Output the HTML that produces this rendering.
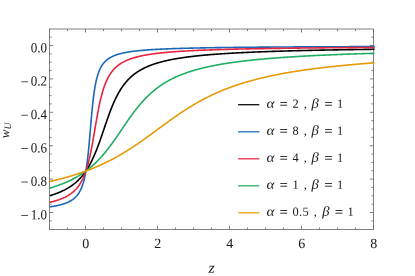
<!DOCTYPE html>
<html><head><meta charset="utf-8"><title>plot</title>
<style>
html,body{margin:0;padding:0;background:#fff;}
body{width:415px;height:276px;overflow:hidden;font-family:"Liberation Serif",serif;}
svg{display:block;will-change:transform;}
text{font-family:"Liberation Serif",serif;fill:#1a1a1a;text-rendering:geometricPrecision;}
.it{font-style:italic;}
</style></head><body>
<svg width="415" height="276" viewBox="0 0 415 276">
<rect x="0" y="0" width="415" height="276" fill="#ffffff"/>
<defs><clipPath id="cp"><rect x="49.90" y="29.00" width="324.70" height="200.50"/></clipPath></defs>

<g stroke="#626262" stroke-width="0.8" fill="none">
<rect x="49.50" y="29.00" width="324.00" height="200.50"/>
<path d="M49.50,229.50 v-2.10 M49.50,29.00 v2.10 M67.50,229.50 v-2.10 M67.50,29.00 v2.10 M85.50,229.50 v-3.60 M85.50,29.00 v3.60 M103.50,229.50 v-2.10 M103.50,29.00 v2.10 M121.50,229.50 v-2.10 M121.50,29.00 v2.10 M139.50,229.50 v-2.10 M139.50,29.00 v2.10 M157.50,229.50 v-3.60 M157.50,29.00 v3.60 M175.50,229.50 v-2.10 M175.50,29.00 v2.10 M193.50,229.50 v-2.10 M193.50,29.00 v2.10 M211.50,229.50 v-2.10 M211.50,29.00 v2.10 M229.50,229.50 v-3.60 M229.50,29.00 v3.60 M247.50,229.50 v-2.10 M247.50,29.00 v2.10 M265.50,229.50 v-2.10 M265.50,29.00 v2.10 M283.50,229.50 v-2.10 M283.50,29.00 v2.10 M301.50,229.50 v-3.60 M301.50,29.00 v3.60 M319.50,229.50 v-2.10 M319.50,29.00 v2.10 M337.50,229.50 v-2.10 M337.50,29.00 v2.10 M355.50,229.50 v-2.10 M355.50,29.00 v2.10 M373.50,229.50 v-3.60 M373.50,29.00 v3.60 M49.50,220.85 h2.10 M373.50,220.85 h-2.10 M49.50,212.50 h3.60 M373.50,212.50 h-3.60 M49.50,204.15 h2.10 M373.50,204.15 h-2.10 M49.50,195.80 h2.10 M373.50,195.80 h-2.10 M49.50,187.45 h2.10 M373.50,187.45 h-2.10 M49.50,179.10 h3.60 M373.50,179.10 h-3.60 M49.50,170.75 h2.10 M373.50,170.75 h-2.10 M49.50,162.40 h2.10 M373.50,162.40 h-2.10 M49.50,154.05 h2.10 M373.50,154.05 h-2.10 M49.50,145.70 h3.60 M373.50,145.70 h-3.60 M49.50,137.35 h2.10 M373.50,137.35 h-2.10 M49.50,129.00 h2.10 M373.50,129.00 h-2.10 M49.50,120.65 h2.10 M373.50,120.65 h-2.10 M49.50,112.30 h3.60 M373.50,112.30 h-3.60 M49.50,103.95 h2.10 M373.50,103.95 h-2.10 M49.50,95.60 h2.10 M373.50,95.60 h-2.10 M49.50,87.25 h2.10 M373.50,87.25 h-2.10 M49.50,78.90 h3.60 M373.50,78.90 h-3.60 M49.50,70.55 h2.10 M373.50,70.55 h-2.10 M49.50,62.20 h2.10 M373.50,62.20 h-2.10 M49.50,53.85 h2.10 M373.50,53.85 h-2.10 M49.50,45.50 h3.60 M373.50,45.50 h-3.60 M49.50,37.15 h2.10 M373.50,37.15 h-2.10"/>
</g>
<g clip-path="url(#cp)" fill="none" stroke-width="1.60" stroke-linejoin="round">
<path d="M47.74,196.26 L48.21,196.13 L48.68,196.00 L49.15,195.87 L49.62,195.73 L50.09,195.59 L50.55,195.45 L51.02,195.31 L51.49,195.16 L51.96,195.02 L52.43,194.87 L52.90,194.71 L53.37,194.56 L53.84,194.40 L54.31,194.24 L54.78,194.08 L55.24,193.91 L55.71,193.75 L56.18,193.58 L56.65,193.40 L57.12,193.22 L57.59,193.04 L58.06,192.86 L58.53,192.67 L59.00,192.48 L59.47,192.29 L59.93,192.09 L60.40,191.89 L60.87,191.69 L61.34,191.48 L61.81,191.27 L62.28,191.05 L62.75,190.83 L63.22,190.61 L63.69,190.38 L64.16,190.14 L64.63,189.91 L65.09,189.66 L65.56,189.42 L66.03,189.16 L66.50,188.90 L66.97,188.64 L67.44,188.37 L67.91,188.10 L68.38,187.82 L68.85,187.53 L69.32,187.24 L69.78,186.94 L70.25,186.64 L70.72,186.33 L71.19,186.01 L71.66,185.68 L72.13,185.35 L72.60,185.01 L73.07,184.66 L73.54,184.30 L74.01,183.94 L74.47,183.57 L74.94,183.19 L75.41,182.79 L75.88,182.39 L76.35,181.99 L76.82,181.57 L77.29,181.14 L77.76,180.70 L78.23,180.25 L78.70,179.78 L79.16,179.31 L79.63,178.82 L80.10,178.33 L80.57,177.82 L81.04,177.29 L81.51,176.76 L81.98,176.20 L82.45,175.64 L82.92,175.06 L83.39,174.46 L83.86,173.85 L84.32,173.23 L84.79,172.59 L85.26,171.93 L85.73,171.25 L86.20,170.55 L86.67,169.84 L87.14,169.11 L87.61,168.36 L88.08,167.58 L88.55,166.79 L89.01,165.98 L89.48,165.15 L89.95,164.29 L90.42,163.42 L90.89,162.52 L91.36,161.60 L91.83,160.65 L92.30,159.69 L92.77,158.70 L93.24,157.68 L93.70,156.64 L94.17,155.58 L94.64,154.50 L95.11,153.39 L95.58,152.26 L96.05,151.11 L96.52,149.94 L96.99,148.74 L97.46,147.52 L97.93,146.28 L98.40,145.03 L98.86,143.75 L99.33,142.46 L99.80,141.15 L100.27,139.82 L100.74,138.49 L101.21,137.14 L101.68,135.78 L102.15,134.41 L102.62,133.03 L103.09,131.65 L103.55,130.27 L104.02,128.89 L104.49,127.50 L104.96,126.12 L105.43,124.74 L105.90,123.37 L106.37,122.00 L106.84,120.65 L107.31,119.31 L107.78,117.98 L108.24,116.66 L108.71,115.36 L109.18,114.08 L109.65,112.81 L110.12,111.56 L110.59,110.33 L111.06,109.13 L111.53,107.94 L112.00,106.78 L112.47,105.64 L112.93,104.52 L113.40,103.43 L113.87,102.35 L114.34,101.31 L114.81,100.28 L115.28,99.28 L115.75,98.30 L116.22,97.35 L116.69,96.42 L117.16,95.51 L117.63,94.62 L118.09,93.75 L118.56,92.91 L119.03,92.09 L119.50,91.29 L119.97,90.51 L120.44,89.75 L120.91,89.01 L121.38,88.28 L121.85,87.58 L122.32,86.89 L122.78,86.23 L123.25,85.57 L123.72,84.94 L124.19,84.32 L124.66,83.72 L125.13,83.13 L125.60,82.56 L126.07,82.00 L126.54,81.46 L127.01,80.93 L127.47,80.41 L127.94,79.91 L128.41,79.42 L128.88,78.94 L129.35,78.47 L129.82,78.02 L130.29,77.57 L130.76,77.14 L131.23,76.71 L131.70,76.30 L132.17,75.89 L132.63,75.50 L133.10,75.11 L133.57,74.74 L134.04,74.37 L134.51,74.01 L134.98,73.66 L135.45,73.31 L135.92,72.98 L136.39,72.65 L136.86,72.32 L137.32,72.01 L137.79,71.70 L138.26,71.40 L138.73,71.10 L139.20,70.82 L139.67,70.53 L140.14,70.26 L140.61,69.98 L141.08,69.72 L141.55,69.46 L142.01,69.20 L142.48,68.95 L142.95,68.71 L143.42,68.47 L143.89,68.23 L144.36,68.00 L144.83,67.77 L145.30,67.55 L145.77,67.33 L146.24,67.12 L146.71,66.91 L147.17,66.70 L147.64,66.50 L148.11,66.30 L148.58,66.11 L149.05,65.92 L149.52,65.73 L149.99,65.54 L150.46,65.36 L150.93,65.18 L151.40,65.01 L151.86,64.83 L152.33,64.66 L152.80,64.50 L153.27,64.33 L153.74,64.17 L154.21,64.01 L154.68,63.86 L155.15,63.71 L155.62,63.55 L156.09,63.41 L156.55,63.26 L157.02,63.12 L157.49,62.97 L157.96,62.84 L158.43,62.70 L158.90,62.56 L159.37,62.43 L159.84,62.30 L160.31,62.17 L160.78,62.04 L161.24,61.92 L161.71,61.79 L162.18,61.67 L162.65,61.55 L163.12,61.44 L163.59,61.32 L164.06,61.20 L164.53,61.09 L165.00,60.98 L165.47,60.87 L165.94,60.76 L166.40,60.66 L166.87,60.55 L167.34,60.45 L167.81,60.34 L168.28,60.24 L168.75,60.14 L169.22,60.04 L169.69,59.95 L170.16,59.85 L170.63,59.76 L171.09,59.66 L171.56,59.57 L172.03,59.48 L172.50,59.39 L172.97,59.30 L173.44,59.21 L173.91,59.13 L174.38,59.04 L174.85,58.96 L175.32,58.87 L175.78,58.79 L176.25,58.71 L176.72,58.63 L177.19,58.55 L177.66,58.47 L178.13,58.40 L178.60,58.32 L179.07,58.24 L179.54,58.17 L180.01,58.10 L180.48,58.02 L180.94,57.95 L181.41,57.88 L181.88,57.81 L182.35,57.74 L182.82,57.67 L183.29,57.60 L183.76,57.53 L184.23,57.47 L184.70,57.40 L185.17,57.34 L185.63,57.27 L186.10,57.21 L186.57,57.15 L187.04,57.08 L187.51,57.02 L187.98,56.96 L188.45,56.90 L188.92,56.84 L189.39,56.78 L189.86,56.72 L190.32,56.67 L190.79,56.61 L191.26,56.55 L191.73,56.50 L192.20,56.44 L192.67,56.38 L193.14,56.33 L193.61,56.28 L194.08,56.22 L194.55,56.17 L195.01,56.12 L195.48,56.07 L195.95,56.01 L196.42,55.96 L196.89,55.91 L197.36,55.86 L197.83,55.81 L198.30,55.77 L198.77,55.72 L199.24,55.67 L199.71,55.62 L200.17,55.58 L200.64,55.53 L201.11,55.48 L201.58,55.44 L202.05,55.39 L202.52,55.35 L202.99,55.30 L203.46,55.26 L203.93,55.21 L204.40,55.17 L204.86,55.13 L205.33,55.09 L205.80,55.04 L206.27,55.00 L206.74,54.96 L207.21,54.92 L207.68,54.88 L208.15,54.84 L208.62,54.80 L209.09,54.76 L209.55,54.72 L210.02,54.68 L210.49,54.64 L210.96,54.60 L211.43,54.57 L211.90,54.53 L212.37,54.49 L212.84,54.45 L213.31,54.42 L213.78,54.38 L214.25,54.35 L214.71,54.31 L215.18,54.27 L215.65,54.24 L216.12,54.20 L216.59,54.17 L217.06,54.14 L217.53,54.10 L218.00,54.07 L218.47,54.03 L218.94,54.00 L219.40,53.97 L219.87,53.94 L220.34,53.90 L220.81,53.87 L221.28,53.84 L221.75,53.81 L222.22,53.78 L222.69,53.74 L223.16,53.71 L223.63,53.68 L224.09,53.65 L224.56,53.62 L225.03,53.59 L225.50,53.56 L225.97,53.53 L226.44,53.50 L226.91,53.47 L227.38,53.44 L227.85,53.42 L228.32,53.39 L228.79,53.36 L229.25,53.33 L229.72,53.30 L230.19,53.28 L230.66,53.25 L231.13,53.22 L231.60,53.19 L232.07,53.17 L232.54,53.14 L233.01,53.11 L233.48,53.09 L233.94,53.06 L234.41,53.04 L234.88,53.01 L235.35,52.98 L235.82,52.96 L236.29,52.93 L236.76,52.91 L237.23,52.88 L237.70,52.86 L238.17,52.83 L238.63,52.81 L239.10,52.79 L239.57,52.76 L240.04,52.74 L240.51,52.71 L240.98,52.69 L241.45,52.67 L241.92,52.64 L242.39,52.62 L242.86,52.60 L243.32,52.58 L243.79,52.55 L244.26,52.53 L244.73,52.51 L245.20,52.49 L245.67,52.46 L246.14,52.44 L246.61,52.42 L247.08,52.40 L247.55,52.38 L248.02,52.36 L248.48,52.33 L248.95,52.31 L249.42,52.29 L249.89,52.27 L250.36,52.25 L250.83,52.23 L251.30,52.21 L251.77,52.19 L252.24,52.17 L252.71,52.15 L253.17,52.13 L253.64,52.11 L254.11,52.09 L254.58,52.07 L255.05,52.05 L255.52,52.03 L255.99,52.01 L256.46,51.99 L256.93,51.97 L257.40,51.96 L257.86,51.94 L258.33,51.92 L258.80,51.90 L259.27,51.88 L259.74,51.86 L260.21,51.84 L260.68,51.83 L261.15,51.81 L261.62,51.79 L262.09,51.77 L262.56,51.76 L263.02,51.74 L263.49,51.72 L263.96,51.70 L264.43,51.69 L264.90,51.67 L265.37,51.65 L265.84,51.63 L266.31,51.62 L266.78,51.60 L267.25,51.58 L267.71,51.57 L268.18,51.55 L268.65,51.53 L269.12,51.52 L269.59,51.50 L270.06,51.49 L270.53,51.47 L271.00,51.45 L271.47,51.44 L271.94,51.42 L272.40,51.41 L272.87,51.39 L273.34,51.38 L273.81,51.36 L274.28,51.35 L274.75,51.33 L275.22,51.31 L275.69,51.30 L276.16,51.28 L276.63,51.27 L277.09,51.25 L277.56,51.24 L278.03,51.23 L278.50,51.21 L278.97,51.20 L279.44,51.18 L279.91,51.17 L280.38,51.15 L280.85,51.14 L281.32,51.12 L281.79,51.11 L282.25,51.10 L282.72,51.08 L283.19,51.07 L283.66,51.06 L284.13,51.04 L284.60,51.03 L285.07,51.01 L285.54,51.00 L286.01,50.99 L286.48,50.97 L286.94,50.96 L287.41,50.95 L287.88,50.93 L288.35,50.92 L288.82,50.91 L289.29,50.90 L289.76,50.88 L290.23,50.87 L290.70,50.86 L291.17,50.84 L291.63,50.83 L292.10,50.82 L292.57,50.81 L293.04,50.79 L293.51,50.78 L293.98,50.77 L294.45,50.76 L294.92,50.74 L295.39,50.73 L295.86,50.72 L296.33,50.71 L296.79,50.70 L297.26,50.68 L297.73,50.67 L298.20,50.66 L298.67,50.65 L299.14,50.64 L299.61,50.63 L300.08,50.61 L300.55,50.60 L301.02,50.59 L301.48,50.58 L301.95,50.57 L302.42,50.56 L302.89,50.55 L303.36,50.53 L303.83,50.52 L304.30,50.51 L304.77,50.50 L305.24,50.49 L305.71,50.48 L306.17,50.47 L306.64,50.46 L307.11,50.45 L307.58,50.44 L308.05,50.42 L308.52,50.41 L308.99,50.40 L309.46,50.39 L309.93,50.38 L310.40,50.37 L310.87,50.36 L311.33,50.35 L311.80,50.34 L312.27,50.33 L312.74,50.32 L313.21,50.31 L313.68,50.30 L314.15,50.29 L314.62,50.28 L315.09,50.27 L315.56,50.26 L316.02,50.25 L316.49,50.24 L316.96,50.23 L317.43,50.22 L317.90,50.21 L318.37,50.20 L318.84,50.19 L319.31,50.18 L319.78,50.17 L320.25,50.16 L320.71,50.15 L321.18,50.14 L321.65,50.13 L322.12,50.12 L322.59,50.12 L323.06,50.11 L323.53,50.10 L324.00,50.09 L324.47,50.08 L324.94,50.07 L325.40,50.06 L325.87,50.05 L326.34,50.04 L326.81,50.03 L327.28,50.02 L327.75,50.02 L328.22,50.01 L328.69,50.00 L329.16,49.99 L329.63,49.98 L330.10,49.97 L330.56,49.96 L331.03,49.95 L331.50,49.95 L331.97,49.94 L332.44,49.93 L332.91,49.92 L333.38,49.91 L333.85,49.90 L334.32,49.89 L334.79,49.89 L335.25,49.88 L335.72,49.87 L336.19,49.86 L336.66,49.85 L337.13,49.84 L337.60,49.84 L338.07,49.83 L338.54,49.82 L339.01,49.81 L339.48,49.80 L339.94,49.80 L340.41,49.79 L340.88,49.78 L341.35,49.77 L341.82,49.76 L342.29,49.76 L342.76,49.75 L343.23,49.74 L343.70,49.73 L344.17,49.72 L344.64,49.72 L345.10,49.71 L345.57,49.70 L346.04,49.69 L346.51,49.69 L346.98,49.68 L347.45,49.67 L347.92,49.66 L348.39,49.66 L348.86,49.65 L349.33,49.64 L349.79,49.63 L350.26,49.63 L350.73,49.62 L351.20,49.61 L351.67,49.61 L352.14,49.60 L352.61,49.59 L353.08,49.58 L353.55,49.58 L354.02,49.57 L354.48,49.56 L354.95,49.55 L355.42,49.55 L355.89,49.54 L356.36,49.53 L356.83,49.53 L357.30,49.52 L357.77,49.51 L358.24,49.51 L358.71,49.50 L359.17,49.49 L359.64,49.49 L360.11,49.48 L360.58,49.47 L361.05,49.46 L361.52,49.46 L361.99,49.45 L362.46,49.44 L362.93,49.44 L363.40,49.43 L363.87,49.42 L364.33,49.42 L364.80,49.41 L365.27,49.41 L365.74,49.40 L366.21,49.39 L366.68,49.39 L367.15,49.38 L367.62,49.37 L368.09,49.37 L368.56,49.36 L369.02,49.35 L369.49,49.35 L369.96,49.34 L370.43,49.33 L370.90,49.33 L371.37,49.32 L371.84,49.32 L372.31,49.31 L372.78,49.30 L373.25,49.30 L373.71,49.29 L374.18,49.28 L374.65,49.28 L375.12,49.27 L375.59,49.27 L376.06,49.26" stroke="#000000"/>
<path d="M47.74,207.16 L48.21,207.10 L48.68,207.04 L49.15,206.97 L49.62,206.91 L50.09,206.84 L50.55,206.77 L51.02,206.70 L51.49,206.63 L51.96,206.56 L52.43,206.48 L52.90,206.40 L53.37,206.32 L53.84,206.24 L54.31,206.16 L54.78,206.07 L55.24,205.98 L55.71,205.89 L56.18,205.80 L56.65,205.70 L57.12,205.61 L57.59,205.50 L58.06,205.40 L58.53,205.29 L59.00,205.18 L59.47,205.07 L59.93,204.95 L60.40,204.83 L60.87,204.71 L61.34,204.58 L61.81,204.45 L62.28,204.31 L62.75,204.17 L63.22,204.03 L63.69,203.88 L64.16,203.72 L64.63,203.56 L65.09,203.40 L65.56,203.22 L66.03,203.04 L66.50,202.86 L66.97,202.66 L67.44,202.46 L67.91,202.25 L68.38,202.04 L68.85,201.81 L69.32,201.57 L69.78,201.33 L70.25,201.07 L70.72,200.80 L71.19,200.52 L71.66,200.22 L72.13,199.91 L72.60,199.59 L73.07,199.25 L73.54,198.89 L74.01,198.51 L74.47,198.11 L74.94,197.69 L75.41,197.24 L75.88,196.77 L76.35,196.27 L76.82,195.74 L77.29,195.17 L77.76,194.57 L78.23,193.93 L78.70,193.24 L79.16,192.50 L79.63,191.70 L80.10,190.85 L80.57,189.92 L81.04,188.93 L81.51,187.84 L81.98,186.66 L82.45,185.38 L82.92,183.97 L83.39,182.43 L83.86,180.73 L84.32,178.86 L84.79,176.80 L85.26,174.51 L85.73,171.98 L86.20,169.17 L86.67,166.05 L87.14,162.59 L87.61,158.77 L88.08,154.59 L88.55,150.03 L89.01,145.13 L89.48,139.93 L89.95,134.52 L90.42,128.99 L90.89,123.48 L91.36,118.08 L91.83,112.91 L92.30,108.04 L92.77,103.51 L93.24,99.36 L93.70,95.58 L94.17,92.15 L94.64,89.06 L95.11,86.28 L95.58,83.77 L96.05,81.50 L96.52,79.46 L96.99,77.61 L97.46,75.93 L97.93,74.40 L98.40,73.00 L98.86,71.73 L99.33,70.56 L99.80,69.48 L100.27,68.49 L100.74,67.57 L101.21,66.72 L101.68,65.93 L102.15,65.20 L102.62,64.51 L103.09,63.87 L103.55,63.27 L104.02,62.71 L104.49,62.18 L104.96,61.68 L105.43,61.21 L105.90,60.77 L106.37,60.35 L106.84,59.95 L107.31,59.58 L107.78,59.22 L108.24,58.88 L108.71,58.56 L109.18,58.25 L109.65,57.96 L110.12,57.68 L110.59,57.41 L111.06,57.15 L111.53,56.91 L112.00,56.67 L112.47,56.44 L112.93,56.23 L113.40,56.02 L113.87,55.82 L114.34,55.63 L114.81,55.44 L115.28,55.26 L115.75,55.09 L116.22,54.92 L116.69,54.76 L117.16,54.61 L117.63,54.46 L118.09,54.31 L118.56,54.17 L119.03,54.04 L119.50,53.91 L119.97,53.78 L120.44,53.65 L120.91,53.53 L121.38,53.42 L121.85,53.31 L122.32,53.20 L122.78,53.09 L123.25,52.99 L123.72,52.89 L124.19,52.79 L124.66,52.69 L125.13,52.60 L125.60,52.51 L126.07,52.42 L126.54,52.34 L127.01,52.25 L127.47,52.17 L127.94,52.09 L128.41,52.01 L128.88,51.94 L129.35,51.86 L129.82,51.79 L130.29,51.72 L130.76,51.65 L131.23,51.59 L131.70,51.52 L132.17,51.46 L132.63,51.39 L133.10,51.33 L133.57,51.27 L134.04,51.21 L134.51,51.15 L134.98,51.10 L135.45,51.04 L135.92,50.99 L136.39,50.94 L136.86,50.88 L137.32,50.83 L137.79,50.78 L138.26,50.73 L138.73,50.69 L139.20,50.64 L139.67,50.59 L140.14,50.55 L140.61,50.50 L141.08,50.46 L141.55,50.42 L142.01,50.37 L142.48,50.33 L142.95,50.29 L143.42,50.25 L143.89,50.21 L144.36,50.17 L144.83,50.13 L145.30,50.10 L145.77,50.06 L146.24,50.02 L146.71,49.99 L147.17,49.95 L147.64,49.92 L148.11,49.89 L148.58,49.85 L149.05,49.82 L149.52,49.79 L149.99,49.76 L150.46,49.73 L150.93,49.69 L151.40,49.66 L151.86,49.63 L152.33,49.61 L152.80,49.58 L153.27,49.55 L153.74,49.52 L154.21,49.49 L154.68,49.47 L155.15,49.44 L155.62,49.41 L156.09,49.39 L156.55,49.36 L157.02,49.34 L157.49,49.31 L157.96,49.29 L158.43,49.26 L158.90,49.24 L159.37,49.21 L159.84,49.19 L160.31,49.17 L160.78,49.14 L161.24,49.12 L161.71,49.10 L162.18,49.08 L162.65,49.06 L163.12,49.04 L163.59,49.01 L164.06,48.99 L164.53,48.97 L165.00,48.95 L165.47,48.93 L165.94,48.91 L166.40,48.89 L166.87,48.87 L167.34,48.86 L167.81,48.84 L168.28,48.82 L168.75,48.80 L169.22,48.78 L169.69,48.76 L170.16,48.75 L170.63,48.73 L171.09,48.71 L171.56,48.69 L172.03,48.68 L172.50,48.66 L172.97,48.64 L173.44,48.63 L173.91,48.61 L174.38,48.60 L174.85,48.58 L175.32,48.56 L175.78,48.55 L176.25,48.53 L176.72,48.52 L177.19,48.50 L177.66,48.49 L178.13,48.47 L178.60,48.46 L179.07,48.45 L179.54,48.43 L180.01,48.42 L180.48,48.40 L180.94,48.39 L181.41,48.38 L181.88,48.36 L182.35,48.35 L182.82,48.34 L183.29,48.32 L183.76,48.31 L184.23,48.30 L184.70,48.28 L185.17,48.27 L185.63,48.26 L186.10,48.25 L186.57,48.24 L187.04,48.22 L187.51,48.21 L187.98,48.20 L188.45,48.19 L188.92,48.18 L189.39,48.16 L189.86,48.15 L190.32,48.14 L190.79,48.13 L191.26,48.12 L191.73,48.11 L192.20,48.10 L192.67,48.09 L193.14,48.08 L193.61,48.07 L194.08,48.06 L194.55,48.05 L195.01,48.04 L195.48,48.02 L195.95,48.01 L196.42,48.00 L196.89,47.99 L197.36,47.99 L197.83,47.98 L198.30,47.97 L198.77,47.96 L199.24,47.95 L199.71,47.94 L200.17,47.93 L200.64,47.92 L201.11,47.91 L201.58,47.90 L202.05,47.89 L202.52,47.88 L202.99,47.87 L203.46,47.86 L203.93,47.86 L204.40,47.85 L204.86,47.84 L205.33,47.83 L205.80,47.82 L206.27,47.81 L206.74,47.81 L207.21,47.80 L207.68,47.79 L208.15,47.78 L208.62,47.77 L209.09,47.76 L209.55,47.76 L210.02,47.75 L210.49,47.74 L210.96,47.73 L211.43,47.73 L211.90,47.72 L212.37,47.71 L212.84,47.70 L213.31,47.70 L213.78,47.69 L214.25,47.68 L214.71,47.67 L215.18,47.67 L215.65,47.66 L216.12,47.65 L216.59,47.64 L217.06,47.64 L217.53,47.63 L218.00,47.62 L218.47,47.62 L218.94,47.61 L219.40,47.60 L219.87,47.60 L220.34,47.59 L220.81,47.58 L221.28,47.58 L221.75,47.57 L222.22,47.56 L222.69,47.56 L223.16,47.55 L223.63,47.54 L224.09,47.54 L224.56,47.53 L225.03,47.53 L225.50,47.52 L225.97,47.51 L226.44,47.51 L226.91,47.50 L227.38,47.50 L227.85,47.49 L228.32,47.48 L228.79,47.48 L229.25,47.47 L229.72,47.47 L230.19,47.46 L230.66,47.45 L231.13,47.45 L231.60,47.44 L232.07,47.44 L232.54,47.43 L233.01,47.43 L233.48,47.42 L233.94,47.42 L234.41,47.41 L234.88,47.41 L235.35,47.40 L235.82,47.39 L236.29,47.39 L236.76,47.38 L237.23,47.38 L237.70,47.37 L238.17,47.37 L238.63,47.36 L239.10,47.36 L239.57,47.35 L240.04,47.35 L240.51,47.34 L240.98,47.34 L241.45,47.33 L241.92,47.33 L242.39,47.32 L242.86,47.32 L243.32,47.31 L243.79,47.31 L244.26,47.30 L244.73,47.30 L245.20,47.29 L245.67,47.29 L246.14,47.29 L246.61,47.28 L247.08,47.28 L247.55,47.27 L248.02,47.27 L248.48,47.26 L248.95,47.26 L249.42,47.25 L249.89,47.25 L250.36,47.25 L250.83,47.24 L251.30,47.24 L251.77,47.23 L252.24,47.23 L252.71,47.22 L253.17,47.22 L253.64,47.21 L254.11,47.21 L254.58,47.21 L255.05,47.20 L255.52,47.20 L255.99,47.19 L256.46,47.19 L256.93,47.19 L257.40,47.18 L257.86,47.18 L258.33,47.17 L258.80,47.17 L259.27,47.17 L259.74,47.16 L260.21,47.16 L260.68,47.15 L261.15,47.15 L261.62,47.15 L262.09,47.14 L262.56,47.14 L263.02,47.14 L263.49,47.13 L263.96,47.13 L264.43,47.12 L264.90,47.12 L265.37,47.12 L265.84,47.11 L266.31,47.11 L266.78,47.11 L267.25,47.10 L267.71,47.10 L268.18,47.10 L268.65,47.09 L269.12,47.09 L269.59,47.08 L270.06,47.08 L270.53,47.08 L271.00,47.07 L271.47,47.07 L271.94,47.07 L272.40,47.06 L272.87,47.06 L273.34,47.06 L273.81,47.05 L274.28,47.05 L274.75,47.05 L275.22,47.04 L275.69,47.04 L276.16,47.04 L276.63,47.03 L277.09,47.03 L277.56,47.03 L278.03,47.02 L278.50,47.02 L278.97,47.02 L279.44,47.02 L279.91,47.01 L280.38,47.01 L280.85,47.01 L281.32,47.00 L281.79,47.00 L282.25,47.00 L282.72,46.99 L283.19,46.99 L283.66,46.99 L284.13,46.98 L284.60,46.98 L285.07,46.98 L285.54,46.98 L286.01,46.97 L286.48,46.97 L286.94,46.97 L287.41,46.96 L287.88,46.96 L288.35,46.96 L288.82,46.96 L289.29,46.95 L289.76,46.95 L290.23,46.95 L290.70,46.94 L291.17,46.94 L291.63,46.94 L292.10,46.94 L292.57,46.93 L293.04,46.93 L293.51,46.93 L293.98,46.92 L294.45,46.92 L294.92,46.92 L295.39,46.92 L295.86,46.91 L296.33,46.91 L296.79,46.91 L297.26,46.91 L297.73,46.90 L298.20,46.90 L298.67,46.90 L299.14,46.90 L299.61,46.89 L300.08,46.89 L300.55,46.89 L301.02,46.89 L301.48,46.88 L301.95,46.88 L302.42,46.88 L302.89,46.88 L303.36,46.87 L303.83,46.87 L304.30,46.87 L304.77,46.87 L305.24,46.86 L305.71,46.86 L306.17,46.86 L306.64,46.86 L307.11,46.85 L307.58,46.85 L308.05,46.85 L308.52,46.85 L308.99,46.84 L309.46,46.84 L309.93,46.84 L310.40,46.84 L310.87,46.83 L311.33,46.83 L311.80,46.83 L312.27,46.83 L312.74,46.83 L313.21,46.82 L313.68,46.82 L314.15,46.82 L314.62,46.82 L315.09,46.81 L315.56,46.81 L316.02,46.81 L316.49,46.81 L316.96,46.81 L317.43,46.80 L317.90,46.80 L318.37,46.80 L318.84,46.80 L319.31,46.79 L319.78,46.79 L320.25,46.79 L320.71,46.79 L321.18,46.79 L321.65,46.78 L322.12,46.78 L322.59,46.78 L323.06,46.78 L323.53,46.78 L324.00,46.77 L324.47,46.77 L324.94,46.77 L325.40,46.77 L325.87,46.77 L326.34,46.76 L326.81,46.76 L327.28,46.76 L327.75,46.76 L328.22,46.76 L328.69,46.75 L329.16,46.75 L329.63,46.75 L330.10,46.75 L330.56,46.75 L331.03,46.74 L331.50,46.74 L331.97,46.74 L332.44,46.74 L332.91,46.74 L333.38,46.73 L333.85,46.73 L334.32,46.73 L334.79,46.73 L335.25,46.73 L335.72,46.72 L336.19,46.72 L336.66,46.72 L337.13,46.72 L337.60,46.72 L338.07,46.72 L338.54,46.71 L339.01,46.71 L339.48,46.71 L339.94,46.71 L340.41,46.71 L340.88,46.70 L341.35,46.70 L341.82,46.70 L342.29,46.70 L342.76,46.70 L343.23,46.70 L343.70,46.69 L344.17,46.69 L344.64,46.69 L345.10,46.69 L345.57,46.69 L346.04,46.69 L346.51,46.68 L346.98,46.68 L347.45,46.68 L347.92,46.68 L348.39,46.68 L348.86,46.68 L349.33,46.67 L349.79,46.67 L350.26,46.67 L350.73,46.67 L351.20,46.67 L351.67,46.67 L352.14,46.66 L352.61,46.66 L353.08,46.66 L353.55,46.66 L354.02,46.66 L354.48,46.66 L354.95,46.65 L355.42,46.65 L355.89,46.65 L356.36,46.65 L356.83,46.65 L357.30,46.65 L357.77,46.64 L358.24,46.64 L358.71,46.64 L359.17,46.64 L359.64,46.64 L360.11,46.64 L360.58,46.64 L361.05,46.63 L361.52,46.63 L361.99,46.63 L362.46,46.63 L362.93,46.63 L363.40,46.63 L363.87,46.62 L364.33,46.62 L364.80,46.62 L365.27,46.62 L365.74,46.62 L366.21,46.62 L366.68,46.62 L367.15,46.61 L367.62,46.61 L368.09,46.61 L368.56,46.61 L369.02,46.61 L369.49,46.61 L369.96,46.61 L370.43,46.60 L370.90,46.60 L371.37,46.60 L371.84,46.60 L372.31,46.60 L372.78,46.60 L373.25,46.60 L373.71,46.59 L374.18,46.59 L374.65,46.59 L375.12,46.59 L375.59,46.59 L376.06,46.59" stroke="#1c66b8"/>
<path d="M47.74,202.73 L48.21,202.63 L48.68,202.53 L49.15,202.43 L49.62,202.32 L50.09,202.21 L50.55,202.11 L51.02,202.00 L51.49,201.88 L51.96,201.77 L52.43,201.65 L52.90,201.53 L53.37,201.41 L53.84,201.28 L54.31,201.15 L54.78,201.02 L55.24,200.89 L55.71,200.75 L56.18,200.61 L56.65,200.47 L57.12,200.32 L57.59,200.17 L58.06,200.01 L58.53,199.86 L59.00,199.69 L59.47,199.53 L59.93,199.36 L60.40,199.18 L60.87,199.00 L61.34,198.82 L61.81,198.63 L62.28,198.44 L62.75,198.24 L63.22,198.04 L63.69,197.83 L64.16,197.61 L64.63,197.39 L65.09,197.16 L65.56,196.93 L66.03,196.68 L66.50,196.44 L66.97,196.18 L67.44,195.91 L67.91,195.64 L68.38,195.36 L68.85,195.07 L69.32,194.77 L69.78,194.46 L70.25,194.14 L70.72,193.81 L71.19,193.46 L71.66,193.11 L72.13,192.74 L72.60,192.36 L73.07,191.97 L73.54,191.56 L74.01,191.13 L74.47,190.69 L74.94,190.23 L75.41,189.75 L75.88,189.25 L76.35,188.74 L76.82,188.20 L77.29,187.64 L77.76,187.05 L78.23,186.44 L78.70,185.80 L79.16,185.13 L79.63,184.43 L80.10,183.70 L80.57,182.94 L81.04,182.13 L81.51,181.29 L81.98,180.41 L82.45,179.48 L82.92,178.51 L83.39,177.48 L83.86,176.40 L84.32,175.27 L84.79,174.08 L85.26,172.82 L85.73,171.49 L86.20,170.10 L86.67,168.63 L87.14,167.08 L87.61,165.45 L88.08,163.73 L88.55,161.93 L89.01,160.04 L89.48,158.05 L89.95,155.97 L90.42,153.79 L90.89,151.53 L91.36,149.17 L91.83,146.73 L92.30,144.21 L92.77,141.62 L93.24,138.97 L93.70,136.27 L94.17,133.53 L94.64,130.77 L95.11,128.00 L95.58,125.24 L96.05,122.49 L96.52,119.79 L96.99,117.13 L97.46,114.53 L97.93,112.01 L98.40,109.56 L98.86,107.20 L99.33,104.92 L99.80,102.74 L100.27,100.65 L100.74,98.65 L101.21,96.75 L101.68,94.94 L102.15,93.21 L102.62,91.57 L103.09,90.02 L103.55,88.54 L104.02,87.14 L104.49,85.81 L104.96,84.54 L105.43,83.34 L105.90,82.20 L106.37,81.12 L106.84,80.09 L107.31,79.11 L107.78,78.18 L108.24,77.29 L108.71,76.45 L109.18,75.64 L109.65,74.87 L110.12,74.14 L110.59,73.43 L111.06,72.76 L111.53,72.12 L112.00,71.51 L112.47,70.92 L112.93,70.36 L113.40,69.81 L113.87,69.29 L114.34,68.80 L114.81,68.32 L115.28,67.86 L115.75,67.41 L116.22,66.99 L116.69,66.57 L117.16,66.18 L117.63,65.79 L118.09,65.43 L118.56,65.07 L119.03,64.73 L119.50,64.39 L119.97,64.07 L120.44,63.76 L120.91,63.46 L121.38,63.17 L121.85,62.89 L122.32,62.61 L122.78,62.35 L123.25,62.09 L123.72,61.84 L124.19,61.60 L124.66,61.36 L125.13,61.13 L125.60,60.91 L126.07,60.69 L126.54,60.48 L127.01,60.28 L127.47,60.08 L127.94,59.89 L128.41,59.70 L128.88,59.51 L129.35,59.33 L129.82,59.16 L130.29,58.99 L130.76,58.82 L131.23,58.66 L131.70,58.50 L132.17,58.35 L132.63,58.20 L133.10,58.05 L133.57,57.90 L134.04,57.76 L134.51,57.63 L134.98,57.49 L135.45,57.36 L135.92,57.23 L136.39,57.11 L136.86,56.98 L137.32,56.86 L137.79,56.74 L138.26,56.63 L138.73,56.52 L139.20,56.40 L139.67,56.30 L140.14,56.19 L140.61,56.08 L141.08,55.98 L141.55,55.88 L142.01,55.78 L142.48,55.69 L142.95,55.59 L143.42,55.50 L143.89,55.41 L144.36,55.32 L144.83,55.23 L145.30,55.14 L145.77,55.06 L146.24,54.98 L146.71,54.89 L147.17,54.81 L147.64,54.73 L148.11,54.66 L148.58,54.58 L149.05,54.51 L149.52,54.43 L149.99,54.36 L150.46,54.29 L150.93,54.22 L151.40,54.15 L151.86,54.08 L152.33,54.01 L152.80,53.95 L153.27,53.88 L153.74,53.82 L154.21,53.76 L154.68,53.69 L155.15,53.63 L155.62,53.57 L156.09,53.51 L156.55,53.46 L157.02,53.40 L157.49,53.34 L157.96,53.29 L158.43,53.23 L158.90,53.18 L159.37,53.12 L159.84,53.07 L160.31,53.02 L160.78,52.97 L161.24,52.92 L161.71,52.87 L162.18,52.82 L162.65,52.77 L163.12,52.72 L163.59,52.68 L164.06,52.63 L164.53,52.58 L165.00,52.54 L165.47,52.49 L165.94,52.45 L166.40,52.41 L166.87,52.36 L167.34,52.32 L167.81,52.28 L168.28,52.24 L168.75,52.20 L169.22,52.16 L169.69,52.12 L170.16,52.08 L170.63,52.04 L171.09,52.00 L171.56,51.96 L172.03,51.92 L172.50,51.89 L172.97,51.85 L173.44,51.81 L173.91,51.78 L174.38,51.74 L174.85,51.71 L175.32,51.67 L175.78,51.64 L176.25,51.61 L176.72,51.57 L177.19,51.54 L177.66,51.51 L178.13,51.48 L178.60,51.44 L179.07,51.41 L179.54,51.38 L180.01,51.35 L180.48,51.32 L180.94,51.29 L181.41,51.26 L181.88,51.23 L182.35,51.20 L182.82,51.17 L183.29,51.14 L183.76,51.12 L184.23,51.09 L184.70,51.06 L185.17,51.03 L185.63,51.01 L186.10,50.98 L186.57,50.95 L187.04,50.93 L187.51,50.90 L187.98,50.87 L188.45,50.85 L188.92,50.82 L189.39,50.80 L189.86,50.77 L190.32,50.75 L190.79,50.72 L191.26,50.70 L191.73,50.68 L192.20,50.65 L192.67,50.63 L193.14,50.61 L193.61,50.58 L194.08,50.56 L194.55,50.54 L195.01,50.52 L195.48,50.49 L195.95,50.47 L196.42,50.45 L196.89,50.43 L197.36,50.41 L197.83,50.39 L198.30,50.37 L198.77,50.34 L199.24,50.32 L199.71,50.30 L200.17,50.28 L200.64,50.26 L201.11,50.24 L201.58,50.22 L202.05,50.20 L202.52,50.19 L202.99,50.17 L203.46,50.15 L203.93,50.13 L204.40,50.11 L204.86,50.09 L205.33,50.07 L205.80,50.05 L206.27,50.04 L206.74,50.02 L207.21,50.00 L207.68,49.98 L208.15,49.97 L208.62,49.95 L209.09,49.93 L209.55,49.91 L210.02,49.90 L210.49,49.88 L210.96,49.86 L211.43,49.85 L211.90,49.83 L212.37,49.81 L212.84,49.80 L213.31,49.78 L213.78,49.77 L214.25,49.75 L214.71,49.74 L215.18,49.72 L215.65,49.70 L216.12,49.69 L216.59,49.67 L217.06,49.66 L217.53,49.64 L218.00,49.63 L218.47,49.61 L218.94,49.60 L219.40,49.59 L219.87,49.57 L220.34,49.56 L220.81,49.54 L221.28,49.53 L221.75,49.52 L222.22,49.50 L222.69,49.49 L223.16,49.47 L223.63,49.46 L224.09,49.45 L224.56,49.43 L225.03,49.42 L225.50,49.41 L225.97,49.39 L226.44,49.38 L226.91,49.37 L227.38,49.36 L227.85,49.34 L228.32,49.33 L228.79,49.32 L229.25,49.31 L229.72,49.29 L230.19,49.28 L230.66,49.27 L231.13,49.26 L231.60,49.24 L232.07,49.23 L232.54,49.22 L233.01,49.21 L233.48,49.20 L233.94,49.19 L234.41,49.17 L234.88,49.16 L235.35,49.15 L235.82,49.14 L236.29,49.13 L236.76,49.12 L237.23,49.11 L237.70,49.10 L238.17,49.09 L238.63,49.07 L239.10,49.06 L239.57,49.05 L240.04,49.04 L240.51,49.03 L240.98,49.02 L241.45,49.01 L241.92,49.00 L242.39,48.99 L242.86,48.98 L243.32,48.97 L243.79,48.96 L244.26,48.95 L244.73,48.94 L245.20,48.93 L245.67,48.92 L246.14,48.91 L246.61,48.90 L247.08,48.89 L247.55,48.88 L248.02,48.87 L248.48,48.86 L248.95,48.85 L249.42,48.84 L249.89,48.83 L250.36,48.82 L250.83,48.81 L251.30,48.81 L251.77,48.80 L252.24,48.79 L252.71,48.78 L253.17,48.77 L253.64,48.76 L254.11,48.75 L254.58,48.74 L255.05,48.73 L255.52,48.73 L255.99,48.72 L256.46,48.71 L256.93,48.70 L257.40,48.69 L257.86,48.68 L258.33,48.67 L258.80,48.67 L259.27,48.66 L259.74,48.65 L260.21,48.64 L260.68,48.63 L261.15,48.62 L261.62,48.62 L262.09,48.61 L262.56,48.60 L263.02,48.59 L263.49,48.59 L263.96,48.58 L264.43,48.57 L264.90,48.56 L265.37,48.55 L265.84,48.55 L266.31,48.54 L266.78,48.53 L267.25,48.52 L267.71,48.52 L268.18,48.51 L268.65,48.50 L269.12,48.49 L269.59,48.49 L270.06,48.48 L270.53,48.47 L271.00,48.46 L271.47,48.46 L271.94,48.45 L272.40,48.44 L272.87,48.44 L273.34,48.43 L273.81,48.42 L274.28,48.41 L274.75,48.41 L275.22,48.40 L275.69,48.39 L276.16,48.39 L276.63,48.38 L277.09,48.37 L277.56,48.37 L278.03,48.36 L278.50,48.35 L278.97,48.35 L279.44,48.34 L279.91,48.33 L280.38,48.33 L280.85,48.32 L281.32,48.31 L281.79,48.31 L282.25,48.30 L282.72,48.30 L283.19,48.29 L283.66,48.28 L284.13,48.28 L284.60,48.27 L285.07,48.26 L285.54,48.26 L286.01,48.25 L286.48,48.25 L286.94,48.24 L287.41,48.23 L287.88,48.23 L288.35,48.22 L288.82,48.22 L289.29,48.21 L289.76,48.20 L290.23,48.20 L290.70,48.19 L291.17,48.19 L291.63,48.18 L292.10,48.17 L292.57,48.17 L293.04,48.16 L293.51,48.16 L293.98,48.15 L294.45,48.15 L294.92,48.14 L295.39,48.13 L295.86,48.13 L296.33,48.12 L296.79,48.12 L297.26,48.11 L297.73,48.11 L298.20,48.10 L298.67,48.10 L299.14,48.09 L299.61,48.09 L300.08,48.08 L300.55,48.07 L301.02,48.07 L301.48,48.06 L301.95,48.06 L302.42,48.05 L302.89,48.05 L303.36,48.04 L303.83,48.04 L304.30,48.03 L304.77,48.03 L305.24,48.02 L305.71,48.02 L306.17,48.01 L306.64,48.01 L307.11,48.00 L307.58,48.00 L308.05,47.99 L308.52,47.99 L308.99,47.98 L309.46,47.98 L309.93,47.97 L310.40,47.97 L310.87,47.96 L311.33,47.96 L311.80,47.95 L312.27,47.95 L312.74,47.94 L313.21,47.94 L313.68,47.94 L314.15,47.93 L314.62,47.93 L315.09,47.92 L315.56,47.92 L316.02,47.91 L316.49,47.91 L316.96,47.90 L317.43,47.90 L317.90,47.89 L318.37,47.89 L318.84,47.89 L319.31,47.88 L319.78,47.88 L320.25,47.87 L320.71,47.87 L321.18,47.86 L321.65,47.86 L322.12,47.85 L322.59,47.85 L323.06,47.85 L323.53,47.84 L324.00,47.84 L324.47,47.83 L324.94,47.83 L325.40,47.82 L325.87,47.82 L326.34,47.82 L326.81,47.81 L327.28,47.81 L327.75,47.80 L328.22,47.80 L328.69,47.80 L329.16,47.79 L329.63,47.79 L330.10,47.78 L330.56,47.78 L331.03,47.78 L331.50,47.77 L331.97,47.77 L332.44,47.76 L332.91,47.76 L333.38,47.76 L333.85,47.75 L334.32,47.75 L334.79,47.74 L335.25,47.74 L335.72,47.74 L336.19,47.73 L336.66,47.73 L337.13,47.72 L337.60,47.72 L338.07,47.72 L338.54,47.71 L339.01,47.71 L339.48,47.71 L339.94,47.70 L340.41,47.70 L340.88,47.69 L341.35,47.69 L341.82,47.69 L342.29,47.68 L342.76,47.68 L343.23,47.68 L343.70,47.67 L344.17,47.67 L344.64,47.66 L345.10,47.66 L345.57,47.66 L346.04,47.65 L346.51,47.65 L346.98,47.65 L347.45,47.64 L347.92,47.64 L348.39,47.64 L348.86,47.63 L349.33,47.63 L349.79,47.63 L350.26,47.62 L350.73,47.62 L351.20,47.62 L351.67,47.61 L352.14,47.61 L352.61,47.61 L353.08,47.60 L353.55,47.60 L354.02,47.60 L354.48,47.59 L354.95,47.59 L355.42,47.59 L355.89,47.58 L356.36,47.58 L356.83,47.58 L357.30,47.57 L357.77,47.57 L358.24,47.57 L358.71,47.56 L359.17,47.56 L359.64,47.56 L360.11,47.55 L360.58,47.55 L361.05,47.55 L361.52,47.54 L361.99,47.54 L362.46,47.54 L362.93,47.53 L363.40,47.53 L363.87,47.53 L364.33,47.52 L364.80,47.52 L365.27,47.52 L365.74,47.52 L366.21,47.51 L366.68,47.51 L367.15,47.51 L367.62,47.50 L368.09,47.50 L368.56,47.50 L369.02,47.49 L369.49,47.49 L369.96,47.49 L370.43,47.49 L370.90,47.48 L371.37,47.48 L371.84,47.48 L372.31,47.47 L372.78,47.47 L373.25,47.47 L373.71,47.47 L374.18,47.46 L374.65,47.46 L375.12,47.46 L375.59,47.45 L376.06,47.45" stroke="#e6243f"/>
<path d="M47.74,188.73 L48.21,188.59 L48.68,188.46 L49.15,188.32 L49.62,188.19 L50.09,188.05 L50.55,187.91 L51.02,187.77 L51.49,187.62 L51.96,187.48 L52.43,187.33 L52.90,187.19 L53.37,187.04 L53.84,186.89 L54.31,186.74 L54.78,186.58 L55.24,186.43 L55.71,186.27 L56.18,186.11 L56.65,185.95 L57.12,185.79 L57.59,185.62 L58.06,185.46 L58.53,185.29 L59.00,185.12 L59.47,184.95 L59.93,184.77 L60.40,184.60 L60.87,184.42 L61.34,184.24 L61.81,184.06 L62.28,183.87 L62.75,183.69 L63.22,183.50 L63.69,183.31 L64.16,183.12 L64.63,182.92 L65.09,182.72 L65.56,182.52 L66.03,182.32 L66.50,182.12 L66.97,181.91 L67.44,181.70 L67.91,181.49 L68.38,181.27 L68.85,181.06 L69.32,180.84 L69.78,180.62 L70.25,180.39 L70.72,180.16 L71.19,179.93 L71.66,179.70 L72.13,179.46 L72.60,179.22 L73.07,178.98 L73.54,178.74 L74.01,178.49 L74.47,178.24 L74.94,177.98 L75.41,177.72 L75.88,177.46 L76.35,177.20 L76.82,176.93 L77.29,176.66 L77.76,176.38 L78.23,176.10 L78.70,175.82 L79.16,175.54 L79.63,175.25 L80.10,174.95 L80.57,174.66 L81.04,174.36 L81.51,174.05 L81.98,173.74 L82.45,173.43 L82.92,173.11 L83.39,172.79 L83.86,172.47 L84.32,172.14 L84.79,171.80 L85.26,171.47 L85.73,171.12 L86.20,170.78 L86.67,170.43 L87.14,170.07 L87.61,169.71 L88.08,169.34 L88.55,168.97 L89.01,168.60 L89.48,168.22 L89.95,167.83 L90.42,167.44 L90.89,167.05 L91.36,166.65 L91.83,166.24 L92.30,165.83 L92.77,165.42 L93.24,165.00 L93.70,164.57 L94.17,164.14 L94.64,163.70 L95.11,163.26 L95.58,162.81 L96.05,162.35 L96.52,161.89 L96.99,161.43 L97.46,160.96 L97.93,160.48 L98.40,160.00 L98.86,159.51 L99.33,159.01 L99.80,158.51 L100.27,158.01 L100.74,157.50 L101.21,156.98 L101.68,156.46 L102.15,155.93 L102.62,155.39 L103.09,154.85 L103.55,154.30 L104.02,153.75 L104.49,153.19 L104.96,152.63 L105.43,152.06 L105.90,151.48 L106.37,150.90 L106.84,150.31 L107.31,149.72 L107.78,149.13 L108.24,148.52 L108.71,147.91 L109.18,147.30 L109.65,146.68 L110.12,146.06 L110.59,145.43 L111.06,144.80 L111.53,144.16 L112.00,143.52 L112.47,142.87 L112.93,142.22 L113.40,141.57 L113.87,140.91 L114.34,140.25 L114.81,139.59 L115.28,138.92 L115.75,138.25 L116.22,137.57 L116.69,136.89 L117.16,136.21 L117.63,135.53 L118.09,134.85 L118.56,134.16 L119.03,133.48 L119.50,132.79 L119.97,132.10 L120.44,131.41 L120.91,130.71 L121.38,130.02 L121.85,129.33 L122.32,128.64 L122.78,127.94 L123.25,127.25 L123.72,126.56 L124.19,125.87 L124.66,125.18 L125.13,124.49 L125.60,123.81 L126.07,123.12 L126.54,122.44 L127.01,121.76 L127.47,121.08 L127.94,120.41 L128.41,119.74 L128.88,119.07 L129.35,118.40 L129.82,117.74 L130.29,117.08 L130.76,116.42 L131.23,115.77 L131.70,115.13 L132.17,114.48 L132.63,113.85 L133.10,113.21 L133.57,112.58 L134.04,111.96 L134.51,111.34 L134.98,110.73 L135.45,110.12 L135.92,109.51 L136.39,108.91 L136.86,108.32 L137.32,107.73 L137.79,107.15 L138.26,106.57 L138.73,106.00 L139.20,105.44 L139.67,104.88 L140.14,104.32 L140.61,103.77 L141.08,103.23 L141.55,102.70 L142.01,102.16 L142.48,101.64 L142.95,101.12 L143.42,100.61 L143.89,100.10 L144.36,99.60 L144.83,99.10 L145.30,98.61 L145.77,98.13 L146.24,97.65 L146.71,97.18 L147.17,96.71 L147.64,96.25 L148.11,95.80 L148.58,95.35 L149.05,94.90 L149.52,94.46 L149.99,94.03 L150.46,93.60 L150.93,93.18 L151.40,92.76 L151.86,92.35 L152.33,91.94 L152.80,91.54 L153.27,91.15 L153.74,90.76 L154.21,90.37 L154.68,89.99 L155.15,89.61 L155.62,89.24 L156.09,88.87 L156.55,88.51 L157.02,88.15 L157.49,87.80 L157.96,87.45 L158.43,87.11 L158.90,86.77 L159.37,86.44 L159.84,86.11 L160.31,85.78 L160.78,85.46 L161.24,85.14 L161.71,84.83 L162.18,84.52 L162.65,84.21 L163.12,83.91 L163.59,83.61 L164.06,83.32 L164.53,83.03 L165.00,82.74 L165.47,82.46 L165.94,82.18 L166.40,81.91 L166.87,81.63 L167.34,81.36 L167.81,81.10 L168.28,80.84 L168.75,80.58 L169.22,80.32 L169.69,80.07 L170.16,79.82 L170.63,79.58 L171.09,79.33 L171.56,79.09 L172.03,78.85 L172.50,78.62 L172.97,78.39 L173.44,78.16 L173.91,77.94 L174.38,77.71 L174.85,77.49 L175.32,77.27 L175.78,77.06 L176.25,76.85 L176.72,76.64 L177.19,76.43 L177.66,76.22 L178.13,76.02 L178.60,75.82 L179.07,75.62 L179.54,75.43 L180.01,75.24 L180.48,75.04 L180.94,74.86 L181.41,74.67 L181.88,74.48 L182.35,74.30 L182.82,74.12 L183.29,73.94 L183.76,73.77 L184.23,73.59 L184.70,73.42 L185.17,73.25 L185.63,73.08 L186.10,72.92 L186.57,72.75 L187.04,72.59 L187.51,72.43 L187.98,72.27 L188.45,72.11 L188.92,71.95 L189.39,71.80 L189.86,71.65 L190.32,71.50 L190.79,71.35 L191.26,71.20 L191.73,71.05 L192.20,70.91 L192.67,70.76 L193.14,70.62 L193.61,70.48 L194.08,70.34 L194.55,70.21 L195.01,70.07 L195.48,69.94 L195.95,69.80 L196.42,69.67 L196.89,69.54 L197.36,69.41 L197.83,69.28 L198.30,69.16 L198.77,69.03 L199.24,68.91 L199.71,68.79 L200.17,68.66 L200.64,68.54 L201.11,68.43 L201.58,68.31 L202.05,68.19 L202.52,68.07 L202.99,67.96 L203.46,67.85 L203.93,67.73 L204.40,67.62 L204.86,67.51 L205.33,67.40 L205.80,67.30 L206.27,67.19 L206.74,67.08 L207.21,66.98 L207.68,66.87 L208.15,66.77 L208.62,66.67 L209.09,66.57 L209.55,66.47 L210.02,66.37 L210.49,66.27 L210.96,66.17 L211.43,66.07 L211.90,65.98 L212.37,65.88 L212.84,65.79 L213.31,65.69 L213.78,65.60 L214.25,65.51 L214.71,65.42 L215.18,65.33 L215.65,65.24 L216.12,65.15 L216.59,65.06 L217.06,64.98 L217.53,64.89 L218.00,64.80 L218.47,64.72 L218.94,64.63 L219.40,64.55 L219.87,64.47 L220.34,64.39 L220.81,64.31 L221.28,64.22 L221.75,64.14 L222.22,64.07 L222.69,63.99 L223.16,63.91 L223.63,63.83 L224.09,63.75 L224.56,63.68 L225.03,63.60 L225.50,63.53 L225.97,63.45 L226.44,63.38 L226.91,63.31 L227.38,63.23 L227.85,63.16 L228.32,63.09 L228.79,63.02 L229.25,62.95 L229.72,62.88 L230.19,62.81 L230.66,62.74 L231.13,62.67 L231.60,62.61 L232.07,62.54 L232.54,62.47 L233.01,62.41 L233.48,62.34 L233.94,62.28 L234.41,62.21 L234.88,62.15 L235.35,62.08 L235.82,62.02 L236.29,61.96 L236.76,61.90 L237.23,61.83 L237.70,61.77 L238.17,61.71 L238.63,61.65 L239.10,61.59 L239.57,61.53 L240.04,61.47 L240.51,61.41 L240.98,61.36 L241.45,61.30 L241.92,61.24 L242.39,61.18 L242.86,61.13 L243.32,61.07 L243.79,61.02 L244.26,60.96 L244.73,60.91 L245.20,60.85 L245.67,60.80 L246.14,60.74 L246.61,60.69 L247.08,60.64 L247.55,60.58 L248.02,60.53 L248.48,60.48 L248.95,60.43 L249.42,60.38 L249.89,60.33 L250.36,60.27 L250.83,60.22 L251.30,60.17 L251.77,60.12 L252.24,60.08 L252.71,60.03 L253.17,59.98 L253.64,59.93 L254.11,59.88 L254.58,59.83 L255.05,59.79 L255.52,59.74 L255.99,59.69 L256.46,59.65 L256.93,59.60 L257.40,59.55 L257.86,59.51 L258.33,59.46 L258.80,59.42 L259.27,59.37 L259.74,59.33 L260.21,59.29 L260.68,59.24 L261.15,59.20 L261.62,59.16 L262.09,59.11 L262.56,59.07 L263.02,59.03 L263.49,58.98 L263.96,58.94 L264.43,58.90 L264.90,58.86 L265.37,58.82 L265.84,58.78 L266.31,58.74 L266.78,58.70 L267.25,58.66 L267.71,58.62 L268.18,58.58 L268.65,58.54 L269.12,58.50 L269.59,58.46 L270.06,58.42 L270.53,58.38 L271.00,58.34 L271.47,58.31 L271.94,58.27 L272.40,58.23 L272.87,58.19 L273.34,58.16 L273.81,58.12 L274.28,58.08 L274.75,58.05 L275.22,58.01 L275.69,57.97 L276.16,57.94 L276.63,57.90 L277.09,57.87 L277.56,57.83 L278.03,57.80 L278.50,57.76 L278.97,57.73 L279.44,57.69 L279.91,57.66 L280.38,57.62 L280.85,57.59 L281.32,57.56 L281.79,57.52 L282.25,57.49 L282.72,57.46 L283.19,57.42 L283.66,57.39 L284.13,57.36 L284.60,57.33 L285.07,57.29 L285.54,57.26 L286.01,57.23 L286.48,57.20 L286.94,57.17 L287.41,57.13 L287.88,57.10 L288.35,57.07 L288.82,57.04 L289.29,57.01 L289.76,56.98 L290.23,56.95 L290.70,56.92 L291.17,56.89 L291.63,56.86 L292.10,56.83 L292.57,56.80 L293.04,56.77 L293.51,56.74 L293.98,56.71 L294.45,56.68 L294.92,56.65 L295.39,56.63 L295.86,56.60 L296.33,56.57 L296.79,56.54 L297.26,56.51 L297.73,56.49 L298.20,56.46 L298.67,56.43 L299.14,56.40 L299.61,56.37 L300.08,56.35 L300.55,56.32 L301.02,56.29 L301.48,56.27 L301.95,56.24 L302.42,56.21 L302.89,56.19 L303.36,56.16 L303.83,56.13 L304.30,56.11 L304.77,56.08 L305.24,56.06 L305.71,56.03 L306.17,56.01 L306.64,55.98 L307.11,55.96 L307.58,55.93 L308.05,55.90 L308.52,55.88 L308.99,55.86 L309.46,55.83 L309.93,55.81 L310.40,55.78 L310.87,55.76 L311.33,55.73 L311.80,55.71 L312.27,55.68 L312.74,55.66 L313.21,55.64 L313.68,55.61 L314.15,55.59 L314.62,55.57 L315.09,55.54 L315.56,55.52 L316.02,55.50 L316.49,55.47 L316.96,55.45 L317.43,55.43 L317.90,55.41 L318.37,55.38 L318.84,55.36 L319.31,55.34 L319.78,55.32 L320.25,55.29 L320.71,55.27 L321.18,55.25 L321.65,55.23 L322.12,55.21 L322.59,55.19 L323.06,55.16 L323.53,55.14 L324.00,55.12 L324.47,55.10 L324.94,55.08 L325.40,55.06 L325.87,55.04 L326.34,55.02 L326.81,54.99 L327.28,54.97 L327.75,54.95 L328.22,54.93 L328.69,54.91 L329.16,54.89 L329.63,54.87 L330.10,54.85 L330.56,54.83 L331.03,54.81 L331.50,54.79 L331.97,54.77 L332.44,54.75 L332.91,54.73 L333.38,54.71 L333.85,54.69 L334.32,54.67 L334.79,54.65 L335.25,54.64 L335.72,54.62 L336.19,54.60 L336.66,54.58 L337.13,54.56 L337.60,54.54 L338.07,54.52 L338.54,54.50 L339.01,54.48 L339.48,54.47 L339.94,54.45 L340.41,54.43 L340.88,54.41 L341.35,54.39 L341.82,54.38 L342.29,54.36 L342.76,54.34 L343.23,54.32 L343.70,54.30 L344.17,54.29 L344.64,54.27 L345.10,54.25 L345.57,54.23 L346.04,54.22 L346.51,54.20 L346.98,54.18 L347.45,54.16 L347.92,54.15 L348.39,54.13 L348.86,54.11 L349.33,54.10 L349.79,54.08 L350.26,54.06 L350.73,54.04 L351.20,54.03 L351.67,54.01 L352.14,53.99 L352.61,53.98 L353.08,53.96 L353.55,53.95 L354.02,53.93 L354.48,53.91 L354.95,53.90 L355.42,53.88 L355.89,53.86 L356.36,53.85 L356.83,53.83 L357.30,53.82 L357.77,53.80 L358.24,53.79 L358.71,53.77 L359.17,53.75 L359.64,53.74 L360.11,53.72 L360.58,53.71 L361.05,53.69 L361.52,53.68 L361.99,53.66 L362.46,53.65 L362.93,53.63 L363.40,53.62 L363.87,53.60 L364.33,53.59 L364.80,53.57 L365.27,53.56 L365.74,53.54 L366.21,53.53 L366.68,53.51 L367.15,53.50 L367.62,53.48 L368.09,53.47 L368.56,53.45 L369.02,53.44 L369.49,53.43 L369.96,53.41 L370.43,53.40 L370.90,53.38 L371.37,53.37 L371.84,53.35 L372.31,53.34 L372.78,53.33 L373.25,53.31 L373.71,53.30 L374.18,53.28 L374.65,53.27 L375.12,53.26 L375.59,53.24 L376.06,53.23" stroke="#1fae62"/>
<path d="M47.74,181.98 L48.21,181.87 L48.68,181.77 L49.15,181.66 L49.62,181.56 L50.09,181.45 L50.55,181.34 L51.02,181.24 L51.49,181.13 L51.96,181.02 L52.43,180.91 L52.90,180.80 L53.37,180.69 L53.84,180.58 L54.31,180.46 L54.78,180.35 L55.24,180.24 L55.71,180.12 L56.18,180.01 L56.65,179.89 L57.12,179.77 L57.59,179.66 L58.06,179.54 L58.53,179.42 L59.00,179.30 L59.47,179.18 L59.93,179.06 L60.40,178.94 L60.87,178.81 L61.34,178.69 L61.81,178.57 L62.28,178.44 L62.75,178.32 L63.22,178.19 L63.69,178.06 L64.16,177.93 L64.63,177.81 L65.09,177.68 L65.56,177.55 L66.03,177.41 L66.50,177.28 L66.97,177.15 L67.44,177.01 L67.91,176.88 L68.38,176.74 L68.85,176.61 L69.32,176.47 L69.78,176.33 L70.25,176.19 L70.72,176.05 L71.19,175.91 L71.66,175.77 L72.13,175.63 L72.60,175.48 L73.07,175.34 L73.54,175.19 L74.01,175.05 L74.47,174.90 L74.94,174.75 L75.41,174.60 L75.88,174.45 L76.35,174.30 L76.82,174.15 L77.29,174.00 L77.76,173.84 L78.23,173.69 L78.70,173.53 L79.16,173.37 L79.63,173.22 L80.10,173.06 L80.57,172.90 L81.04,172.73 L81.51,172.57 L81.98,172.41 L82.45,172.24 L82.92,172.08 L83.39,171.91 L83.86,171.74 L84.32,171.58 L84.79,171.41 L85.26,171.23 L85.73,171.06 L86.20,170.89 L86.67,170.71 L87.14,170.54 L87.61,170.36 L88.08,170.18 L88.55,170.01 L89.01,169.83 L89.48,169.64 L89.95,169.46 L90.42,169.28 L90.89,169.09 L91.36,168.91 L91.83,168.72 L92.30,168.53 L92.77,168.34 L93.24,168.15 L93.70,167.96 L94.17,167.76 L94.64,167.57 L95.11,167.37 L95.58,167.18 L96.05,166.98 L96.52,166.78 L96.99,166.58 L97.46,166.37 L97.93,166.17 L98.40,165.96 L98.86,165.76 L99.33,165.55 L99.80,165.34 L100.27,165.13 L100.74,164.92 L101.21,164.71 L101.68,164.49 L102.15,164.28 L102.62,164.06 L103.09,163.84 L103.55,163.62 L104.02,163.40 L104.49,163.18 L104.96,162.95 L105.43,162.73 L105.90,162.50 L106.37,162.27 L106.84,162.04 L107.31,161.81 L107.78,161.58 L108.24,161.34 L108.71,161.11 L109.18,160.87 L109.65,160.63 L110.12,160.39 L110.59,160.15 L111.06,159.91 L111.53,159.67 L112.00,159.42 L112.47,159.17 L112.93,158.93 L113.40,158.68 L113.87,158.42 L114.34,158.17 L114.81,157.92 L115.28,157.66 L115.75,157.40 L116.22,157.15 L116.69,156.89 L117.16,156.62 L117.63,156.36 L118.09,156.10 L118.56,155.83 L119.03,155.56 L119.50,155.29 L119.97,155.02 L120.44,154.75 L120.91,154.48 L121.38,154.20 L121.85,153.93 L122.32,153.65 L122.78,153.37 L123.25,153.09 L123.72,152.81 L124.19,152.53 L124.66,152.24 L125.13,151.95 L125.60,151.67 L126.07,151.38 L126.54,151.09 L127.01,150.80 L127.47,150.50 L127.94,150.21 L128.41,149.91 L128.88,149.62 L129.35,149.32 L129.82,149.02 L130.29,148.72 L130.76,148.41 L131.23,148.11 L131.70,147.80 L132.17,147.50 L132.63,147.19 L133.10,146.88 L133.57,146.57 L134.04,146.26 L134.51,145.95 L134.98,145.63 L135.45,145.32 L135.92,145.00 L136.39,144.68 L136.86,144.37 L137.32,144.05 L137.79,143.73 L138.26,143.40 L138.73,143.08 L139.20,142.76 L139.67,142.43 L140.14,142.11 L140.61,141.78 L141.08,141.45 L141.55,141.12 L142.01,140.79 L142.48,140.46 L142.95,140.13 L143.42,139.80 L143.89,139.47 L144.36,139.13 L144.83,138.80 L145.30,138.46 L145.77,138.12 L146.24,137.79 L146.71,137.45 L147.17,137.11 L147.64,136.77 L148.11,136.43 L148.58,136.09 L149.05,135.75 L149.52,135.41 L149.99,135.07 L150.46,134.73 L150.93,134.38 L151.40,134.04 L151.86,133.70 L152.33,133.35 L152.80,133.01 L153.27,132.66 L153.74,132.32 L154.21,131.97 L154.68,131.63 L155.15,131.28 L155.62,130.94 L156.09,130.59 L156.55,130.24 L157.02,129.90 L157.49,129.55 L157.96,129.20 L158.43,128.86 L158.90,128.51 L159.37,128.17 L159.84,127.82 L160.31,127.47 L160.78,127.13 L161.24,126.78 L161.71,126.44 L162.18,126.09 L162.65,125.75 L163.12,125.40 L163.59,125.06 L164.06,124.71 L164.53,124.37 L165.00,124.03 L165.47,123.68 L165.94,123.34 L166.40,123.00 L166.87,122.66 L167.34,122.32 L167.81,121.98 L168.28,121.64 L168.75,121.30 L169.22,120.96 L169.69,120.62 L170.16,120.29 L170.63,119.95 L171.09,119.62 L171.56,119.28 L172.03,118.95 L172.50,118.61 L172.97,118.28 L173.44,117.95 L173.91,117.62 L174.38,117.29 L174.85,116.96 L175.32,116.63 L175.78,116.31 L176.25,115.98 L176.72,115.66 L177.19,115.33 L177.66,115.01 L178.13,114.69 L178.60,114.37 L179.07,114.05 L179.54,113.73 L180.01,113.41 L180.48,113.10 L180.94,112.78 L181.41,112.47 L181.88,112.16 L182.35,111.85 L182.82,111.54 L183.29,111.23 L183.76,110.92 L184.23,110.62 L184.70,110.31 L185.17,110.01 L185.63,109.70 L186.10,109.40 L186.57,109.10 L187.04,108.81 L187.51,108.51 L187.98,108.21 L188.45,107.92 L188.92,107.63 L189.39,107.34 L189.86,107.05 L190.32,106.76 L190.79,106.47 L191.26,106.18 L191.73,105.90 L192.20,105.62 L192.67,105.34 L193.14,105.05 L193.61,104.78 L194.08,104.50 L194.55,104.22 L195.01,103.95 L195.48,103.68 L195.95,103.40 L196.42,103.13 L196.89,102.87 L197.36,102.60 L197.83,102.33 L198.30,102.07 L198.77,101.81 L199.24,101.55 L199.71,101.29 L200.17,101.03 L200.64,100.77 L201.11,100.52 L201.58,100.26 L202.05,100.01 L202.52,99.76 L202.99,99.51 L203.46,99.26 L203.93,99.01 L204.40,98.77 L204.86,98.53 L205.33,98.28 L205.80,98.04 L206.27,97.80 L206.74,97.57 L207.21,97.33 L207.68,97.09 L208.15,96.86 L208.62,96.63 L209.09,96.40 L209.55,96.17 L210.02,95.94 L210.49,95.71 L210.96,95.49 L211.43,95.27 L211.90,95.04 L212.37,94.82 L212.84,94.60 L213.31,94.38 L213.78,94.17 L214.25,93.95 L214.71,93.74 L215.18,93.53 L215.65,93.31 L216.12,93.10 L216.59,92.90 L217.06,92.69 L217.53,92.48 L218.00,92.28 L218.47,92.07 L218.94,91.87 L219.40,91.67 L219.87,91.47 L220.34,91.27 L220.81,91.08 L221.28,90.88 L221.75,90.69 L222.22,90.49 L222.69,90.30 L223.16,90.11 L223.63,89.92 L224.09,89.73 L224.56,89.54 L225.03,89.36 L225.50,89.17 L225.97,88.99 L226.44,88.81 L226.91,88.63 L227.38,88.45 L227.85,88.27 L228.32,88.09 L228.79,87.91 L229.25,87.74 L229.72,87.57 L230.19,87.39 L230.66,87.22 L231.13,87.05 L231.60,86.88 L232.07,86.71 L232.54,86.54 L233.01,86.38 L233.48,86.21 L233.94,86.05 L234.41,85.89 L234.88,85.72 L235.35,85.56 L235.82,85.40 L236.29,85.24 L236.76,85.08 L237.23,84.93 L237.70,84.77 L238.17,84.62 L238.63,84.46 L239.10,84.31 L239.57,84.16 L240.04,84.01 L240.51,83.86 L240.98,83.71 L241.45,83.56 L241.92,83.41 L242.39,83.27 L242.86,83.12 L243.32,82.98 L243.79,82.83 L244.26,82.69 L244.73,82.55 L245.20,82.41 L245.67,82.27 L246.14,82.13 L246.61,81.99 L247.08,81.86 L247.55,81.72 L248.02,81.58 L248.48,81.45 L248.95,81.32 L249.42,81.18 L249.89,81.05 L250.36,80.92 L250.83,80.79 L251.30,80.66 L251.77,80.53 L252.24,80.40 L252.71,80.28 L253.17,80.15 L253.64,80.03 L254.11,79.90 L254.58,79.78 L255.05,79.65 L255.52,79.53 L255.99,79.41 L256.46,79.29 L256.93,79.17 L257.40,79.05 L257.86,78.93 L258.33,78.81 L258.80,78.70 L259.27,78.58 L259.74,78.46 L260.21,78.35 L260.68,78.23 L261.15,78.12 L261.62,78.01 L262.09,77.89 L262.56,77.78 L263.02,77.67 L263.49,77.56 L263.96,77.45 L264.43,77.34 L264.90,77.24 L265.37,77.13 L265.84,77.02 L266.31,76.91 L266.78,76.81 L267.25,76.70 L267.71,76.60 L268.18,76.50 L268.65,76.39 L269.12,76.29 L269.59,76.19 L270.06,76.09 L270.53,75.99 L271.00,75.89 L271.47,75.79 L271.94,75.69 L272.40,75.59 L272.87,75.49 L273.34,75.39 L273.81,75.30 L274.28,75.20 L274.75,75.11 L275.22,75.01 L275.69,74.92 L276.16,74.82 L276.63,74.73 L277.09,74.64 L277.56,74.54 L278.03,74.45 L278.50,74.36 L278.97,74.27 L279.44,74.18 L279.91,74.09 L280.38,74.00 L280.85,73.91 L281.32,73.82 L281.79,73.74 L282.25,73.65 L282.72,73.56 L283.19,73.48 L283.66,73.39 L284.13,73.30 L284.60,73.22 L285.07,73.14 L285.54,73.05 L286.01,72.97 L286.48,72.89 L286.94,72.80 L287.41,72.72 L287.88,72.64 L288.35,72.56 L288.82,72.48 L289.29,72.40 L289.76,72.32 L290.23,72.24 L290.70,72.16 L291.17,72.08 L291.63,72.00 L292.10,71.93 L292.57,71.85 L293.04,71.77 L293.51,71.70 L293.98,71.62 L294.45,71.54 L294.92,71.47 L295.39,71.39 L295.86,71.32 L296.33,71.25 L296.79,71.17 L297.26,71.10 L297.73,71.03 L298.20,70.95 L298.67,70.88 L299.14,70.81 L299.61,70.74 L300.08,70.67 L300.55,70.60 L301.02,70.53 L301.48,70.46 L301.95,70.39 L302.42,70.32 L302.89,70.25 L303.36,70.18 L303.83,70.11 L304.30,70.05 L304.77,69.98 L305.24,69.91 L305.71,69.85 L306.17,69.78 L306.64,69.71 L307.11,69.65 L307.58,69.58 L308.05,69.52 L308.52,69.45 L308.99,69.39 L309.46,69.33 L309.93,69.26 L310.40,69.20 L310.87,69.14 L311.33,69.07 L311.80,69.01 L312.27,68.95 L312.74,68.89 L313.21,68.83 L313.68,68.76 L314.15,68.70 L314.62,68.64 L315.09,68.58 L315.56,68.52 L316.02,68.46 L316.49,68.40 L316.96,68.35 L317.43,68.29 L317.90,68.23 L318.37,68.17 L318.84,68.11 L319.31,68.05 L319.78,68.00 L320.25,67.94 L320.71,67.88 L321.18,67.83 L321.65,67.77 L322.12,67.71 L322.59,67.66 L323.06,67.60 L323.53,67.55 L324.00,67.49 L324.47,67.44 L324.94,67.38 L325.40,67.33 L325.87,67.28 L326.34,67.22 L326.81,67.17 L327.28,67.12 L327.75,67.06 L328.22,67.01 L328.69,66.96 L329.16,66.91 L329.63,66.85 L330.10,66.80 L330.56,66.75 L331.03,66.70 L331.50,66.65 L331.97,66.60 L332.44,66.55 L332.91,66.50 L333.38,66.45 L333.85,66.40 L334.32,66.35 L334.79,66.30 L335.25,66.25 L335.72,66.20 L336.19,66.15 L336.66,66.10 L337.13,66.06 L337.60,66.01 L338.07,65.96 L338.54,65.91 L339.01,65.86 L339.48,65.82 L339.94,65.77 L340.41,65.72 L340.88,65.68 L341.35,65.63 L341.82,65.58 L342.29,65.54 L342.76,65.49 L343.23,65.45 L343.70,65.40 L344.17,65.36 L344.64,65.31 L345.10,65.27 L345.57,65.22 L346.04,65.18 L346.51,65.13 L346.98,65.09 L347.45,65.05 L347.92,65.00 L348.39,64.96 L348.86,64.92 L349.33,64.87 L349.79,64.83 L350.26,64.79 L350.73,64.75 L351.20,64.70 L351.67,64.66 L352.14,64.62 L352.61,64.58 L353.08,64.54 L353.55,64.49 L354.02,64.45 L354.48,64.41 L354.95,64.37 L355.42,64.33 L355.89,64.29 L356.36,64.25 L356.83,64.21 L357.30,64.17 L357.77,64.13 L358.24,64.09 L358.71,64.05 L359.17,64.01 L359.64,63.97 L360.11,63.93 L360.58,63.89 L361.05,63.86 L361.52,63.82 L361.99,63.78 L362.46,63.74 L362.93,63.70 L363.40,63.66 L363.87,63.63 L364.33,63.59 L364.80,63.55 L365.27,63.51 L365.74,63.48 L366.21,63.44 L366.68,63.40 L367.15,63.37 L367.62,63.33 L368.09,63.29 L368.56,63.26 L369.02,63.22 L369.49,63.18 L369.96,63.15 L370.43,63.11 L370.90,63.08 L371.37,63.04 L371.84,63.01 L372.31,62.97 L372.78,62.94 L373.25,62.90 L373.71,62.87 L374.18,62.83 L374.65,62.80 L375.12,62.76 L375.59,62.73 L376.06,62.70" stroke="#e69a05"/>
</g>
<text transform="translate(46.90,52.20) rotate(0.10) scale(0.930,1)" font-size="14" text-anchor="end">0.0</text>
<text transform="translate(46.90,85.60) rotate(0.10) scale(0.930,1)" font-size="14" text-anchor="end">0.2</text>
<rect x="21.3" y="81.43" width="6.6" height="0.75" fill="#1a1a1a"/>
<text transform="translate(46.90,119.00) rotate(0.10) scale(0.930,1)" font-size="14" text-anchor="end">0.4</text>
<rect x="21.3" y="114.83" width="6.6" height="0.75" fill="#1a1a1a"/>
<text transform="translate(46.90,152.40) rotate(0.10) scale(0.930,1)" font-size="14" text-anchor="end">0.6</text>
<rect x="21.3" y="148.23" width="6.6" height="0.75" fill="#1a1a1a"/>
<text transform="translate(46.90,185.80) rotate(0.10) scale(0.930,1)" font-size="14" text-anchor="end">0.8</text>
<rect x="21.3" y="181.63" width="6.6" height="0.75" fill="#1a1a1a"/>
<text transform="translate(46.90,219.20) rotate(0.10) scale(0.930,1)" font-size="14" text-anchor="end">1.0</text>
<rect x="21.3" y="215.03" width="6.6" height="0.75" fill="#1a1a1a"/>
<text transform="translate(85.70,248.00) rotate(0.10)" font-size="14" text-anchor="middle">0</text>
<text transform="translate(157.70,248.00) rotate(0.10)" font-size="14" text-anchor="middle">2</text>
<text transform="translate(229.70,248.00) rotate(0.10)" font-size="14" text-anchor="middle">4</text>
<text transform="translate(301.70,248.00) rotate(0.10)" font-size="14" text-anchor="middle">6</text>
<text transform="translate(373.70,248.00) rotate(0.10)" font-size="14" text-anchor="middle">8</text>
<text class="it" transform="translate(208.50,272.70) rotate(0.10) scale(1.060,1)" font-size="15">z</text>
<g transform="translate(9.3,138.3) rotate(-90)">
<text class="it" transform="translate(0.00,0.00) rotate(0.10)" font-size="13">w</text>
<text class="it" transform="translate(8.90,1.60) rotate(0.10)" font-size="9.6">U</text>
</g>
<path d="M238.1,104.72 H259.3" stroke="#000000" stroke-width="1.25" fill="none"/>
<text class="it" transform="translate(266.50,107.75) rotate(0.10) scale(1.120,1)" font-size="13.5">α</text>
<text transform="translate(279.80,108.25) rotate(0.10) scale(1.080,1)" font-size="13" stroke="#1a1a1a" stroke-width="0.25">=</text>
<text transform="translate(292.40,107.75) rotate(0.10)" font-size="12.4">2</text>
<text transform="translate(303.80,107.75) rotate(0.10)" font-size="12.4">,</text>
<text class="it" transform="translate(311.60,107.75) rotate(0.10) scale(1.080,1)" font-size="13.5">β</text>
<text transform="translate(324.40,108.25) rotate(0.10) scale(1.080,1)" font-size="13" stroke="#1a1a1a" stroke-width="0.25">=</text>
<text transform="translate(337.00,107.75) rotate(0.10)" font-size="12.4">1</text>
<path d="M238.1,131.80 H259.3" stroke="#1c66b8" stroke-width="1.25" fill="none"/>
<text class="it" transform="translate(266.50,134.75) rotate(0.10) scale(1.120,1)" font-size="13.5">α</text>
<text transform="translate(279.80,135.25) rotate(0.10) scale(1.080,1)" font-size="13" stroke="#1a1a1a" stroke-width="0.25">=</text>
<text transform="translate(292.40,134.75) rotate(0.10)" font-size="12.4">8</text>
<text transform="translate(303.80,134.75) rotate(0.10)" font-size="12.4">,</text>
<text class="it" transform="translate(311.60,134.75) rotate(0.10) scale(1.080,1)" font-size="13.5">β</text>
<text transform="translate(324.40,135.25) rotate(0.10) scale(1.080,1)" font-size="13" stroke="#1a1a1a" stroke-width="0.25">=</text>
<text transform="translate(337.00,134.75) rotate(0.10)" font-size="12.4">1</text>
<path d="M238.1,158.82 H259.3" stroke="#e6243f" stroke-width="1.25" fill="none"/>
<text class="it" transform="translate(266.50,161.75) rotate(0.10) scale(1.120,1)" font-size="13.5">α</text>
<text transform="translate(279.80,162.25) rotate(0.10) scale(1.080,1)" font-size="13" stroke="#1a1a1a" stroke-width="0.25">=</text>
<text transform="translate(292.40,161.75) rotate(0.10)" font-size="12.4">4</text>
<text transform="translate(303.80,161.75) rotate(0.10)" font-size="12.4">,</text>
<text class="it" transform="translate(311.60,161.75) rotate(0.10) scale(1.080,1)" font-size="13.5">β</text>
<text transform="translate(324.40,162.25) rotate(0.10) scale(1.080,1)" font-size="13" stroke="#1a1a1a" stroke-width="0.25">=</text>
<text transform="translate(337.00,161.75) rotate(0.10)" font-size="12.4">1</text>
<path d="M238.1,185.82 H259.3" stroke="#1fae62" stroke-width="1.25" fill="none"/>
<text class="it" transform="translate(266.50,188.75) rotate(0.10) scale(1.120,1)" font-size="13.5">α</text>
<text transform="translate(279.80,189.25) rotate(0.10) scale(1.080,1)" font-size="13" stroke="#1a1a1a" stroke-width="0.25">=</text>
<text transform="translate(292.40,188.75) rotate(0.10)" font-size="12.4">1</text>
<text transform="translate(303.80,188.75) rotate(0.10)" font-size="12.4">,</text>
<text class="it" transform="translate(311.60,188.75) rotate(0.10) scale(1.080,1)" font-size="13.5">β</text>
<text transform="translate(324.40,189.25) rotate(0.10) scale(1.080,1)" font-size="13" stroke="#1a1a1a" stroke-width="0.25">=</text>
<text transform="translate(337.00,188.75) rotate(0.10)" font-size="12.4">1</text>
<path d="M238.1,212.82 H259.3" stroke="#e69a05" stroke-width="1.25" fill="none"/>
<text class="it" transform="translate(266.50,215.75) rotate(0.10) scale(1.120,1)" font-size="13.5">α</text>
<text transform="translate(279.80,216.25) rotate(0.10) scale(1.080,1)" font-size="13" stroke="#1a1a1a" stroke-width="0.25">=</text>
<text transform="translate(292.40,215.75) rotate(0.10)" font-size="12.4" letter-spacing="0.35">0.5</text>
<text transform="translate(313.80,215.75) rotate(0.10)" font-size="12.4">,</text>
<text class="it" transform="translate(322.20,215.75) rotate(0.10) scale(1.080,1)" font-size="13.5">β</text>
<text transform="translate(335.00,216.25) rotate(0.10) scale(1.080,1)" font-size="13" stroke="#1a1a1a" stroke-width="0.25">=</text>
<text transform="translate(347.60,215.75) rotate(0.10)" font-size="12.4">1</text>
</svg></body></html>
